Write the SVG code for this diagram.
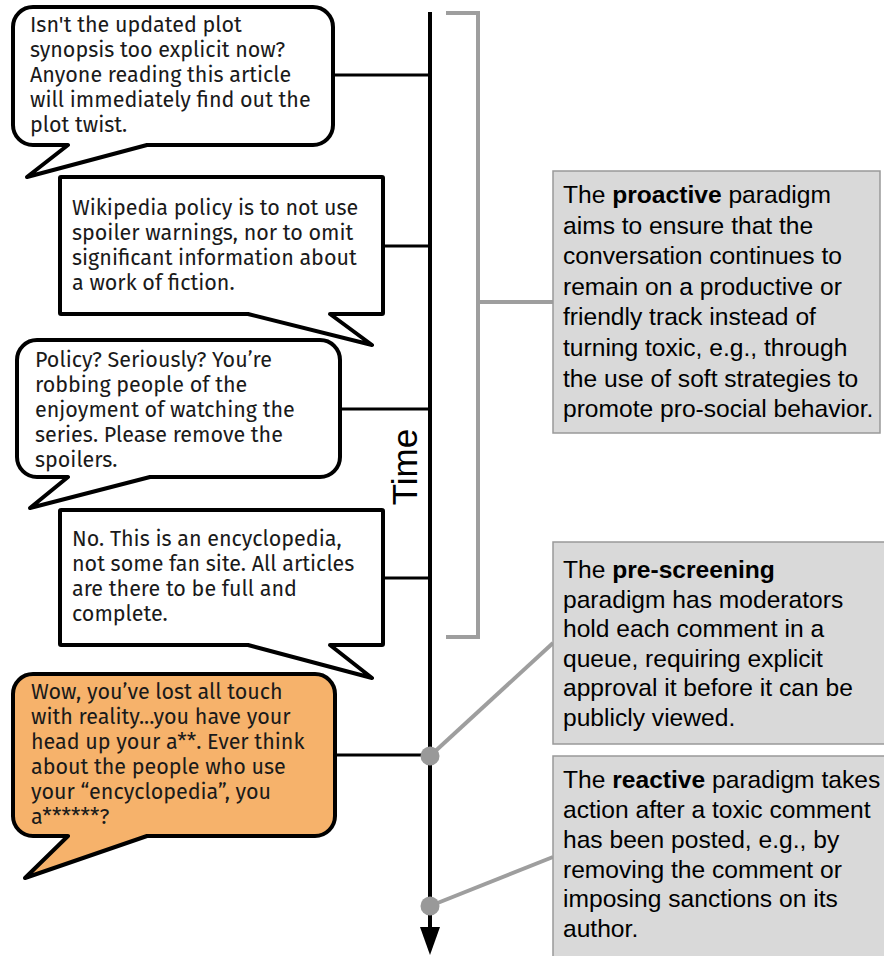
<svg xmlns="http://www.w3.org/2000/svg" width="884" height="956" viewBox="0 0 884 956">
<style>
.bub{fill:#fff;stroke:#000;stroke-width:4;stroke-linejoin:round}
.bt{font-family:"Fira Sans","Noto Sans","Open Sans",sans-serif;font-size:21.5px;fill:#1a1a1a}
.box{fill:#d9d9d9;stroke:#999;stroke-width:1.5}
.gt{font-family:"Liberation Sans",Arial,sans-serif;font-size:24.6px;fill:#000}
.c{stroke:#000;stroke-width:3}
.g{stroke:#9e9e9e;stroke-width:4;fill:none}
</style>
<g id="connectors">
<line class="c" x1="333" y1="75" x2="430" y2="75"/>
<line class="c" x1="383" y1="246" x2="430" y2="246"/>
<line class="c" x1="340" y1="409" x2="430" y2="409"/>
<line class="c" x1="383" y1="578" x2="430" y2="578"/>
<line class="c" x1="335" y1="755" x2="430" y2="755"/>
<polyline class="g" stroke-width="3" points="446,13 478,13 478,637 446,637"/>
<line class="g" stroke-width="3" x1="478" y1="302" x2="553" y2="302"/>
<line class="g" x1="430" y1="756" x2="553" y2="643"/>
<line class="g" x1="430" y1="906" x2="553" y2="857"/>
</g>
<g id="timeline">
<line x1="430" y1="12" x2="430" y2="930" stroke="#000" stroke-width="4"/>
<polygon points="420,927 440,927 430,955" fill="#000"/>
<text x="417" y="467" transform="rotate(-90 417 467)" text-anchor="middle" font-family="Liberation Sans, Arial, sans-serif" font-size="35">Time</text>
<circle cx="430" cy="756" r="9.5" fill="#999"/>
<circle cx="430" cy="906" r="9.5" fill="#999"/>
</g>
<g id="bubble1">
<path class="bub" d="M33 7H313A20 20 0 0 1 333 27V125A20 20 0 0 1 313 145H147L27 177L68 145H33A20 20 0 0 1 13 125V27A20 20 0 0 1 33 7Z"/>
<text class="bt" x="30" y="32">Isn't the updated plot</text>
<text class="bt" x="30" y="57">synopsis too explicit now?</text>
<text class="bt" x="30" y="82">Anyone reading this article</text>
<text class="bt" x="30" y="107">will immediately find out the</text>
<text class="bt" x="30" y="132">plot twist.</text>
</g>
<g id="bubble2">
<path class="bub" d="M61 177H382A1 1 0 0 1 383 178V313A1 1 0 0 1 382 314H330L372 345L248 314H61A1 1 0 0 1 60 313V178A1 1 0 0 1 61 177Z"/>
<text class="bt" x="72" y="215">Wikipedia policy is to not use</text>
<text class="bt" x="72" y="240">spoiler warnings, nor to omit</text>
<text class="bt" x="72" y="265">significant information about</text>
<text class="bt" x="72" y="290">a work of fiction.</text>
</g>
<g id="bubble3">
<path class="bub" d="M37 340H320A20 20 0 0 1 340 360V457A20 20 0 0 1 320 477H150L30 508L68 477H37A20 20 0 0 1 17 457V360A20 20 0 0 1 37 340Z"/>
<text class="bt" x="35" y="367">Policy? Seriously? You’re</text>
<text class="bt" x="35" y="392">robbing people of the</text>
<text class="bt" x="35" y="417">enjoyment of watching the</text>
<text class="bt" x="35" y="442">series. Please remove the</text>
<text class="bt" x="35" y="467">spoilers.</text>
</g>
<g id="bubble4">
<path class="bub" d="M61 510H382A1 1 0 0 1 383 511V644A1 1 0 0 1 382 645H330L372 678L248 645H61A1 1 0 0 1 60 644V511A1 1 0 0 1 61 510Z"/>
<text class="bt" x="72" y="546">No. This is an encyclopedia,</text>
<text class="bt" x="72" y="571">not some fan site. All articles</text>
<text class="bt" x="72" y="596">are there to be full and</text>
<text class="bt" x="72" y="621">complete.</text>
</g>
<g id="bubble5">
<path class="bub" style="fill:#f6b26b" d="M33 674H315A20 20 0 0 1 335 694V816A20 20 0 0 1 315 836H147L25 878L68 836H33A20 20 0 0 1 13 816V694A20 20 0 0 1 33 674Z"/>
<text class="bt" x="31" y="699">Wow, you’ve lost all touch</text>
<text class="bt" x="31" y="724">with reality...you have your</text>
<text class="bt" x="31" y="749">head up your a**. Ever think</text>
<text class="bt" x="31" y="774">about the people who use</text>
<text class="bt" x="31" y="799">your “encyclopedia”, you</text>
<text class="bt" x="31" y="824">a******?</text>
</g>
<g id="proactive">
<rect class="box" x="553" y="171" width="327" height="262"/>
<text class="gt" x="563" y="203">The <tspan font-weight="bold">proactive</tspan> paradigm</text>
<text class="gt" x="563" y="233.6">aims to ensure that the</text>
<text class="gt" x="563" y="264.2">conversation continues to</text>
<text class="gt" x="563" y="294.8">remain on a productive or</text>
<text class="gt" x="563" y="325.4">friendly track instead of</text>
<text class="gt" x="563" y="356">turning toxic, e.g., through</text>
<text class="gt" x="563" y="386.6">the use of soft strategies to</text>
<text class="gt" x="563" y="417.2">promote pro-social behavior.</text>
</g>
<g id="prescreening">
<rect class="box" x="553" y="542" width="340" height="202"/>
<text class="gt" x="563" y="578">The <tspan font-weight="bold">pre-screening</tspan></text>
<text class="gt" x="563" y="607.5">paradigm has moderators</text>
<text class="gt" x="563" y="637">hold each comment in a</text>
<text class="gt" x="563" y="666.5">queue, requiring explicit</text>
<text class="gt" x="563" y="696">approval it before it can be</text>
<text class="gt" x="563" y="725.5">publicly viewed.</text>
</g>
<g id="reactive">
<rect class="box" x="553" y="756" width="340" height="210"/>
<text class="gt" x="563" y="788">The <tspan font-weight="bold">reactive</tspan> paradigm takes</text>
<text class="gt" x="563" y="818">action after a toxic comment</text>
<text class="gt" x="563" y="848">has been posted, e.g., by</text>
<text class="gt" x="563" y="877.5">removing the comment or</text>
<text class="gt" x="563" y="907">imposing sanctions on its</text>
<text class="gt" x="563" y="937">author.</text>
</g>
</svg>
